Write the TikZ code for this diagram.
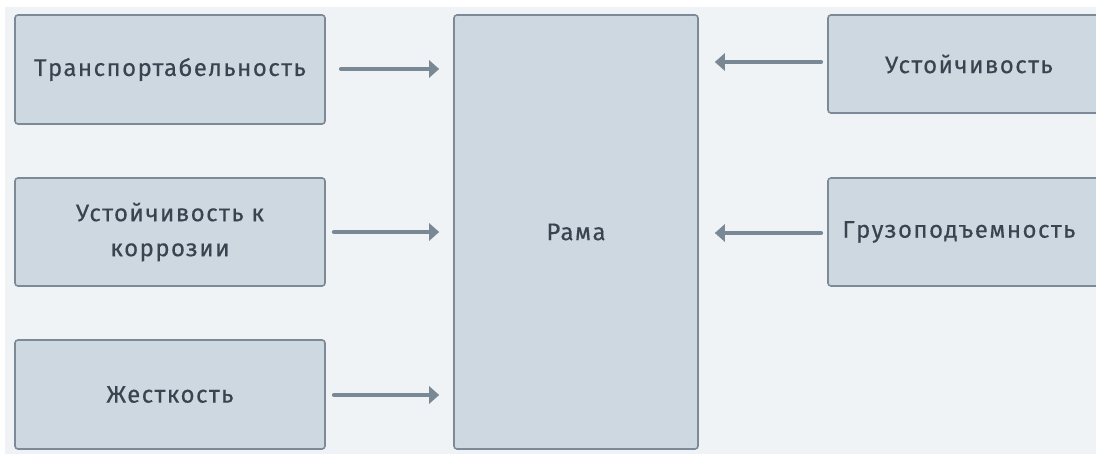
\documentclass[tikz,border=0pt]{standalone}
\usepackage{fontspec}
\setmainfont{Fira Sans}[LetterSpace=6,FakeBold=0.4]
\usetikzlibrary{arrows.meta}
\definecolor{bgc}{HTML}{EFF3F6}
\definecolor{boxfill}{HTML}{CED8E1}
\definecolor{boxline}{HTML}{7C8A97}
\definecolor{arrc}{HTML}{7A8794}
\definecolor{txtc}{HTML}{3A4450}
\tikzset{
  blk/.style={draw=boxline, line width=1.6pt, fill=boxfill, rounded corners=3pt, inner sep=0pt,
    text=txtc, font=\fontsize{24pt}{35pt}\selectfont, align=center},
  arr/.style={draw=arrc, line width=4.2pt, line cap=round, -{Triangle[length=10pt,width=17pt]}},
}
\begin{document}
\begin{tikzpicture}[x=1pt,y=-1pt]
\useasboundingbox (0,0) rectangle (1096,454);
\clip (0,0) rectangle (1096,454);
\fill[white] (0,0) rectangle (1096,454);
\fill[bgc] (5,7) rectangle (1096,454);
% left column
\node[blk, minimum width=310pt, minimum height=109pt] (t) at (170,69.5) {Транспортабельность};
\node[blk, minimum width=310pt, minimum height=108pt] (k) at (170,232) {\raisebox{-2pt}{\parbox{300pt}{\centering Устойчивость к\\коррозии}}};
\node[blk, minimum width=310pt, minimum height=109pt] (zh) at (170,394.5) {Жесткость};
% centre
\node[blk, minimum width=244pt, minimum height=434pt] (r) at (576,232) {Рама};
% right column
\node[blk, minimum width=282pt, minimum height=98pt, text width=282pt] (u) at (969,64) {Устойчивость};
\node[blk, minimum width=282pt, minimum height=108pt, text width=282pt] (g) at (969,232) {\hspace*{-20pt}Грузоподъемность};
% arrows
\coordinate (a1) at (341,69);
\coordinate (a2) at (334,232);
\coordinate (a3) at (334,395);
\coordinate (b1) at (821,62);
\coordinate (b2) at (821,233);
\draw[arr] (a1) -- ([xshift=-14pt]a1 -| r.west);
\draw[arr] (a2) -- ([xshift=-14pt]a2 -| r.west);
\draw[arr] (a3) -- ([xshift=-14pt]a3 -| r.west);
\draw[arr] (b1) -- ([xshift=16pt]b1 -| r.east);
\draw[arr] (b2) -- ([xshift=16pt]b2 -| r.east);
\end{tikzpicture}
\end{document}
